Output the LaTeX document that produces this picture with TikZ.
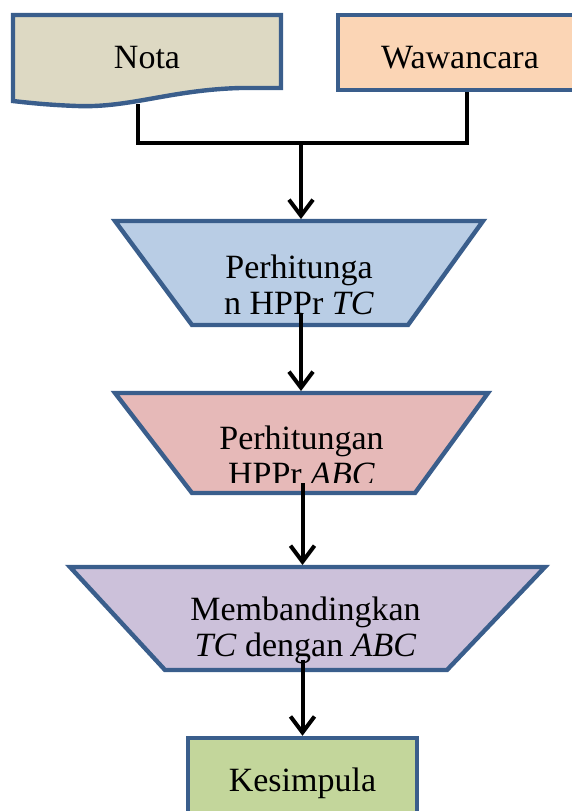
\documentclass[tikz,border=0pt]{standalone}
\usepackage{fontspec}
\setmainfont{Liberation Serif}
\usetikzlibrary{arrows.meta}

\definecolor{edge}{HTML}{3A5E8C}
\definecolor{notafill}{HTML}{DDD9C3}
\definecolor{wawfill}{HTML}{FBD5B5}
\definecolor{tcfill}{HTML}{B9CDE5}
\definecolor{abcfill}{HTML}{E6B9B8}
\definecolor{cmpfill}{HTML}{CCC1DA}
\definecolor{kesfill}{HTML}{C3D69B}

\begin{document}
\begin{tikzpicture}[x=0.5pt,y=-0.5pt,
  font=\fontsize{17}{18}\selectfont,
  box/.style={draw=edge,line width=2.2pt},
  area/.style={inner sep=0pt,outer sep=0pt},
  link/.style={line width=2pt},
  arr/.style={link,-{Straight Barb[length=8pt,width=12pt]}}]
  \useasboundingbox (0,0) rectangle (572,811);

  % sumber data
  \draw[box,fill=notafill] (13,15) -- (281,15) -- (281,88) -- (240,88)
    .. controls (170,90) and (130,108) .. (77,106)
    .. controls (50,105) and (30,103) .. (13,101) -- cycle;
  \node[minimum width=134pt,minimum height=43pt] (nota) at (147,58) {Nota};
  \node[box,fill=wawfill,minimum width=122pt,minimum height=37.5pt,text height=16.7pt] (waw) at (460,52.5) {Wawancara};

  % proses
  \node[area,minimum width=184pt,minimum height=52pt] (tc) at (299,273) {};
  \draw[box,fill=tcfill] (tc.north west) -- (tc.north east)
    -- ([xshift=-37.5pt]tc.south east) -- ([xshift=38.5pt]tc.south west) -- cycle;
  \node[align=center] (tctext) at ([yshift=-6pt]tc.center) {Perhitunga\\n HPPr \textit{TC}};

  \node[area,minimum width=186.5pt,minimum height=50pt] (abc) at (301.5,443) {};
  \draw[box,fill=abcfill] (abc.north west) -- (abc.north east)
    -- ([xshift=-36.5pt]abc.south east) -- ([xshift=38.5pt]abc.south west) -- cycle;
  \begin{scope}
    \clip (100,380) rectangle (500,482);
    \node[align=center] (abctext) at ([yshift=-6.5pt]abc.center) {Perhitungan\\HPPr \textit{ABC}};
  \end{scope}

  \node[area,minimum width=237.5pt,minimum height=51.5pt] (cmp) at (307.5,618.5) {};
  \draw[box,fill=cmpfill] (cmp.north west) -- (cmp.north east)
    -- ([xshift=-49pt]cmp.south east) -- ([xshift=47.5pt]cmp.south west) -- cycle;
  \node[align=center] (cmptext) at ([xshift=-1pt,yshift=-6pt]cmp.center) {Membandingkan\\\textit{TC} dengan \textit{ABC}};

  \node[box,fill=kesfill,minimum width=114.5pt,minimum height=45pt] (kes) at (302.5,783) {Kesimpula};

  % alur
  \coordinate (join) at (301,143);
  \draw[link] ([xshift=-4.5pt,yshift=-1.5pt]nota.south) |- (join) -| ([xshift=3.5pt]waw.south);
  \draw[arr] (join) -- ([yshift=1pt]join |- tc.north);
  \draw[arr] ([yshift=6pt]join |- tc.south) -- ([yshift=1pt]join |- abc.north);
  \draw[arr] ([yshift=5pt]kes.north |- abc.south) -- ([yshift=1pt]kes.north |- cmp.north);
  \draw[arr] ([yshift=5pt]kes.north |- cmp.south) -- (kes.north);
\end{tikzpicture}
\end{document}
